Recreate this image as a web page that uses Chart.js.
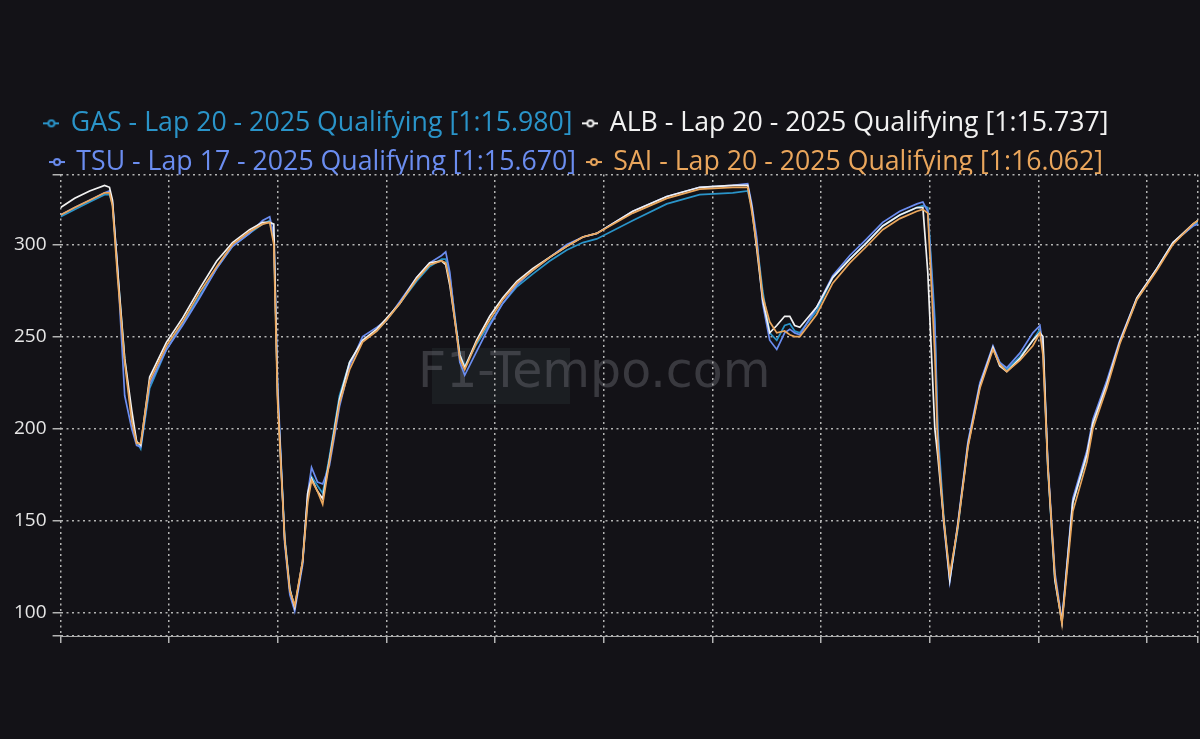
<!DOCTYPE html>
<html>
<head>
<meta charset="utf-8">
<script src="https://cdn.jsdelivr.net/npm/chart.js@4"></script>
<style>
  html, body { margin: 0; padding: 0; background: #131217; }
  #wrap { width: 1200px; height: 739px; }
</style>
</head>
<body>
<div id="wrap"><canvas id="speedChart" width="1200" height="739"></canvas></div>
<script>
// distance along the lap (m) - shared sample points
const distance = [0, 52, 107, 162, 180, 191, 210, 236, 262, 280,
  295, 328, 390, 449, 512, 575, 633, 696, 744, 770,
  785, 799, 825, 844, 862, 891, 910, 924, 946, 965,
  990, 1027, 1064, 1112, 1164, 1201, 1249, 1311, 1359, 1403,
  1418, 1433, 1470, 1488, 1532, 1580, 1628, 1680, 1739, 1801,
  1864, 1923, 1974, 2107, 2232, 2353, 2475, 2530, 2545, 2563,
  2585, 2611, 2637, 2666, 2685, 2703, 2722, 2784, 2843, 2906,
  2968, 3027, 3090, 3153, 3175, 3193, 3219, 3230, 3252, 3274,
  3303, 3341, 3385, 3433, 3458, 3484, 3532, 3580, 3606, 3617,
  3635, 3661, 3687, 3727, 3779, 3801, 3852, 3900, 3963, 4037,
  4096, 4169, 4188];

const speedGAS = [315, 319, 323, 327, 327, 322, 285, 238, 206, 193,
  189, 222, 243, 257, 272, 287, 299, 306, 311, 313,
  302, 220, 142, 113, 103, 127, 162, 174, 169, 165,
  185, 218, 236, 248, 253, 259, 268, 280, 288, 292,
  292, 283, 240, 234, 246, 257, 268, 277, 284, 291,
  297, 301, 303, 313, 322, 327, 328, 329, 320, 302,
  275, 252, 248, 256, 257, 253, 252, 264, 282, 292,
  301, 310, 316, 320, 321, 320, 260, 200, 152, 118,
  145, 192, 224, 244, 236, 232, 239, 248, 254, 246,
  178, 118, 95, 160, 185, 202, 223, 247, 270, 287,
  301, 310, 312];

const speedALB = [320, 325, 329, 332, 331, 324, 286, 238, 210, 193,
  191, 228, 247, 260, 276, 291, 301, 308, 312, 312,
  311, 218, 140, 113, 103, 128, 165, 173, 166, 162,
  183, 216, 236, 248, 254, 260, 268, 282, 290, 291,
  289, 278, 240, 233, 248, 261, 271, 280, 287, 293,
  299, 304, 306, 318, 326, 331, 332, 332, 320, 298,
  270, 252, 256, 261, 261, 256, 255, 266, 282, 292,
  301, 310, 316, 320, 320, 285, 200, 185, 150, 118,
  147, 191, 223, 244, 234, 231, 238, 248, 252, 250,
  180, 118, 95, 160, 186, 203, 224, 247, 271, 287,
  301, 311, 313];

const speedTSU = [316, 320, 324, 328, 329, 323, 287, 218, 200, 191,
  190, 224, 243, 256, 271, 287, 299, 306, 313, 315,
  305, 225, 138, 110, 101, 126, 165, 179, 171, 170,
  180, 212, 234, 250, 255, 259, 269, 282, 290, 294,
  296, 285, 236, 229, 242, 256, 268, 278, 286, 293,
  300, 304, 306, 318, 326, 331, 332, 333, 322, 304,
  268, 248, 243, 252, 254, 252, 251, 266, 283, 294,
  303, 312, 318, 322, 323, 318, 255, 195, 148, 117,
  148, 193, 225, 245, 236, 233, 241, 252, 256, 244,
  182, 122, 96, 162, 188, 205, 226, 248, 271, 287,
  301, 310, 311];

const speedSAI = [316, 320, 324, 328, 328, 321, 282, 236, 204, 192,
  192, 226, 245, 258, 274, 288, 300, 307, 311, 312,
  300, 215, 140, 112, 104, 128, 160, 172, 166, 159,
  182, 214, 232, 247, 253, 259, 268, 281, 289, 291,
  290, 280, 238, 232, 247, 259, 270, 279, 286, 293,
  299, 304, 306, 317, 325, 330, 331, 331, 318, 300,
  272, 258, 252, 253, 251, 250, 250, 262, 279, 290,
  299, 308, 314, 318, 319, 317, 240, 190, 150, 121,
  146, 190, 222, 243, 235, 231, 237, 245, 252, 240,
  180, 120, 94, 155, 182, 200, 222, 246, 270, 286,
  300, 311, 313];

const driverLabels = [
  'GAS - Lap 20 - 2025 Qualifying [1:15.980]',
  'ALB - Lap 20 - 2025 Qualifying [1:15.737]',
  'TSU - Lap 17 - 2025 Qualifying [1:15.670]',
  'SAI - Lap 20 - 2025 Qualifying [1:16.062]'
];
const driverColors = ['#2a94c9', '#f2f2f2', '#6b8df0', '#eaa65c'];
const yTicks = [100, 150, 200, 250, 300];

/* -----------------------------
   Legend marker  -o-
------------------------------ */
function makeMarker(color) {
  const c = document.createElement('canvas');
  c.width = 16; c.height = 10;
  const g = c.getContext('2d');
  g.strokeStyle = color;
  g.lineWidth = 2;
  g.beginPath(); g.moveTo(0, 5); g.lineTo(16, 5); g.stroke();
  g.fillStyle = '#131217';
  g.beginPath(); g.arc(8, 5, 3, 0, Math.PI * 2); g.fill(); g.stroke();
  return c;
}

/* -----------------------------
   Background + watermark
------------------------------ */
const backdrop = {
  id: 'backdrop',
  afterLayout(chart) {
    // legend sits a little left of centre in the original
    chart.legend.left -= 26;
    chart.legend.right -= 26;
  },
  beforeDraw(chart) {
    const ctx = chart.ctx;
    ctx.save();
    ctx.fillStyle = '#131217';
    ctx.fillRect(0, 0, chart.width, chart.height);
    ctx.fillStyle = '#1b1e22';
    ctx.fillRect(432, 348, 138, 56);
    ctx.font = '49px "DejaVu Sans", sans-serif';
    ctx.fillStyle = 'rgba(120,120,128,0.38)';
    ctx.textBaseline = 'middle';
    ctx.fillText('F1-Tempo.com', 418, 374);
    ctx.restore();
  }
};

const speeds = [speedGAS, speedALB, speedTSU, speedSAI];
const drawOrder = [3, 1, 2, 0];
const gridColor = '#b4b4b4';

const ctx = document.getElementById('speedChart').getContext('2d');
const chart = new Chart(ctx, {
  type: 'line',
  data: {
    datasets: speeds.map((s, i) => ({
      label: driverLabels[i],
      data: s.map((v, k) => ({ x: distance[k], y: v })),
      borderColor: driverColors[i],
      backgroundColor: driverColors[i],
      borderWidth: 1.7,
      pointRadius: 0,
      tension: 0,
      fill: false,
      order: drawOrder[i]
    }))
  },
  options: {
    responsive: false,
    animation: false,
    layout: { padding: { top: 98, left: 8, right: 2, bottom: 96 } },
    plugins: {
      tooltip: { enabled: false },
      legend: {
        display: true,
        position: 'top',
        labels: {
          usePointStyle: true,
          pointStyleWidth: 12,
          padding: 12,
          font: { family: '"Open Sans", "Noto Sans", sans-serif', size: 26.7 },
          sort: (a, b) => a.datasetIndex - b.datasetIndex,
          generateLabels: function (chart) {
            return chart.data.datasets.map((ds, i) => ({
              text: ds.label,
              fontColor: driverColors[i],
              fillStyle: driverColors[i],
              strokeStyle: driverColors[i],
              lineWidth: 0,
              pointStyle: makeMarker(driverColors[i]),
              hidden: false,
              datasetIndex: i
            }));
          }
        }
      }
    },
    scales: {
      x: {
        type: 'linear',
        min: 0,
        max: 4188,
        ticks: { display: false, stepSize: 400 },
        // in v4 border.dash also dashes the grid lines
        border: { display: true, color: '#a8a8a8', dash: [2, 3.5] },
        grid: {
          color: gridColor,
          lineWidth: 1.5,
          tickLength: 7,
          tickBorderDash: [],
          tickColor: gridColor
        }
      },
      y: {
        min: 87.5,
        max: 338,
        afterBuildTicks: function (axis) {
          axis.ticks = [87.5].concat(yTicks).concat([338]).map(v => ({ value: v }));
        },
        ticks: {
          color: '#e6e6e6',
          padding: 6,
          font: { family: '"Open Sans", "Noto Sans", sans-serif', size: 19 },
          callback: v => (yTicks.includes(v) ? String(v) : '')
        },
        border: { display: false, dash: [2, 3.5] },
        grid: {
          color: gridColor,
          lineWidth: 1.5,
          tickLength: 8,
          tickBorderDash: [],
          tickColor: gridColor
        }
      }
    }
  },
  plugins: [backdrop]
});

// tighter gap between legend and plot
const legendFit = chart.legend.fit;
chart.legend.fit = function () {
  legendFit.call(this);
  this.height -= 11;
};
chart.update();
</script>
</body>
</html>
